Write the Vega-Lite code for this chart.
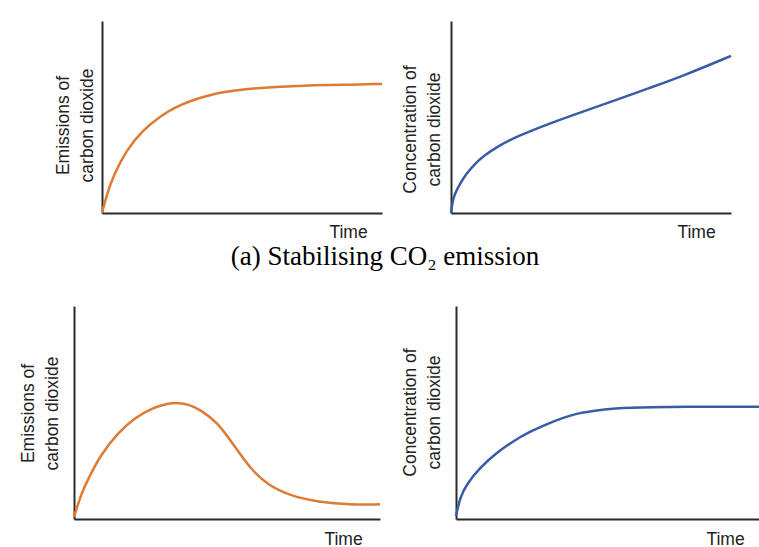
{
  "$schema": "https://vega.github.io/schema/vega-lite/v6.json",
  "padding": {"left": 19, "top": 21, "right": 0, "bottom": 0},
  "background": "white",
  "center": true,
  "spacing": 36,
  "config": {
    "view": {"stroke": null},
    "axis": {
      "labels": false,
      "ticks": false,
      "grid": false,
      "domainColor": "#2b2b2b",
      "domainWidth": 2,
      "titleFont": "Liberation Sans",
      "titleFontSize": 17.5,
      "titleFontWeight": "normal",
      "titleColor": "#222222",
      "titleLineHeight": 24
    },
    "line": {"strokeWidth": 2.5, "interpolate": "basis"}
  },
  "vconcat": [
    {
      "title": {
        "text": "(a) Stabilising CO₂ emission",
        "orient": "bottom",
        "anchor": "middle",
        "font": "Liberation Serif",
        "fontSize": 27,
        "fontWeight": "normal",
        "color": "#000000",
        "offset": 3,
        "dx": -10
      },
      "spacing": 14,
      "hconcat": [
        {
          "width": 280,
          "height": 192,
          "data": {"values": [
            {"t": 0, "v": 0}, {"t": 1.5, "v": 8.5}, {"t": 3.9, "v": 18.9}, {"t": 8.7, "v": 32.8},
            {"t": 14.6, "v": 43.2}, {"t": 20.6, "v": 50.2}, {"t": 26.5, "v": 55.4}, {"t": 32.5, "v": 58.9},
            {"t": 38.5, "v": 61.5}, {"t": 44.4, "v": 63.2}, {"t": 50.4, "v": 64.4}, {"t": 62.1, "v": 65.8},
            {"t": 74.2, "v": 66.5}, {"t": 86.1, "v": 66.8}, {"t": 100, "v": 67.2}
          ]},
          "mark": {"type": "line", "color": "#df7a33"},
          "encoding": {
            "x": {"field": "t", "type": "quantitative", "scale": {"domain": [0, 100], "nice": false},
                  "axis": {"title": "Time", "titleX": 246, "titleY": 19, "titleAlign": "center", "titleBaseline": "middle"}},
            "y": {"field": "v", "type": "quantitative", "scale": {"domain": [0, 100], "nice": false},
                  "axis": {"title": ["Emissions of", "carbon dioxide"], "titlePadding": 6, "titleY": 104}}
          }
        },
        {
          "width": 280,
          "height": 192,
          "data": {"values": [
            {"t": 0, "v": 0}, {"t": 0.7, "v": 7.5}, {"t": 1.9, "v": 11.5}, {"t": 3.1, "v": 15.0},
            {"t": 5.5, "v": 20.5}, {"t": 8.5, "v": 25.5}, {"t": 11.4, "v": 29.5}, {"t": 17.4, "v": 35.3},
            {"t": 23.3, "v": 39.7}, {"t": 35.3, "v": 46.7}, {"t": 47.1, "v": 52.8}, {"t": 59.0, "v": 58.9},
            {"t": 71.0, "v": 65.2}, {"t": 82.9, "v": 71.4}, {"t": 100, "v": 81.8}
          ]},
          "mark": {"type": "line", "color": "#3a5ba8"},
          "encoding": {
            "x": {"field": "t", "type": "quantitative", "scale": {"domain": [0, 100], "nice": false},
                  "axis": {"title": "Time", "titleX": 245, "titleY": 19, "titleAlign": "center", "titleBaseline": "middle"}},
            "y": {"field": "v", "type": "quantitative", "scale": {"domain": [0, 100], "nice": false},
                  "axis": {"title": ["Concentration of", "carbon dioxide"], "titlePadding": 8, "titleY": 108}}
          }
        }
      ]
    },
    {
      "spacing": 16,
      "hconcat": [
        {
          "width": 306,
          "height": 213,
          "data": {"values": [
            {"t": 0, "v": 0.9}, {"t": 2.3, "v": 11.6}, {"t": 4.5, "v": 18.5}, {"t": 8.8, "v": 30.4},
            {"t": 14.3, "v": 40.3}, {"t": 19.7, "v": 47.3}, {"t": 25.2, "v": 52.0}, {"t": 32.3, "v": 55.0},
            {"t": 37.2, "v": 54.0}, {"t": 41.5, "v": 51.2}, {"t": 47.0, "v": 45.2}, {"t": 52.4, "v": 34.3},
            {"t": 57.8, "v": 23.3}, {"t": 63.3, "v": 16.0}, {"t": 70.9, "v": 10.8}, {"t": 79.6, "v": 8.0},
            {"t": 90.5, "v": 6.6}, {"t": 100, "v": 6.9}
          ]},
          "mark": {"type": "line", "color": "#df7a33"},
          "encoding": {
            "x": {"field": "t", "type": "quantitative", "scale": {"domain": [0, 100], "nice": false},
                  "axis": {"title": "Time", "titleX": 269, "titleY": 20, "titleAlign": "center", "titleBaseline": "middle"}},
            "y": {"field": "v", "type": "quantitative", "scale": {"domain": [0, 100], "nice": false},
                  "axis": {"title": ["Emissions of", "carbon dioxide"], "titlePadding": 13, "titleY": 107}}
          }
        },
        {
          "width": 303,
          "height": 213,
          "data": {"values": [
            {"t": 0, "v": 1.4}, {"t": 1.3, "v": 10.0}, {"t": 3.5, "v": 16.3}, {"t": 7.9, "v": 24.1},
            {"t": 13.4, "v": 31.1}, {"t": 18.9, "v": 36.6}, {"t": 24.4, "v": 41.0}, {"t": 29.9, "v": 44.5},
            {"t": 35.4, "v": 47.6}, {"t": 40.9, "v": 49.9}, {"t": 46.4, "v": 51.0}, {"t": 51.9, "v": 52.0},
            {"t": 62.9, "v": 52.6}, {"t": 84.9, "v": 52.7}, {"t": 100, "v": 52.7}
          ]},
          "mark": {"type": "line", "color": "#3a5ba8"},
          "encoding": {
            "x": {"field": "t", "type": "quantitative", "scale": {"domain": [0, 100], "nice": false},
                  "axis": {"title": "Time", "titleX": 269, "titleY": 20, "titleAlign": "center", "titleBaseline": "middle"}},
            "y": {"field": "v", "type": "quantitative", "scale": {"domain": [0, 100], "nice": false},
                  "axis": {"title": ["Concentration of", "carbon dioxide"], "titlePadding": 13, "titleY": 106}}
          }
        }
      ]
    }
  ]
}
